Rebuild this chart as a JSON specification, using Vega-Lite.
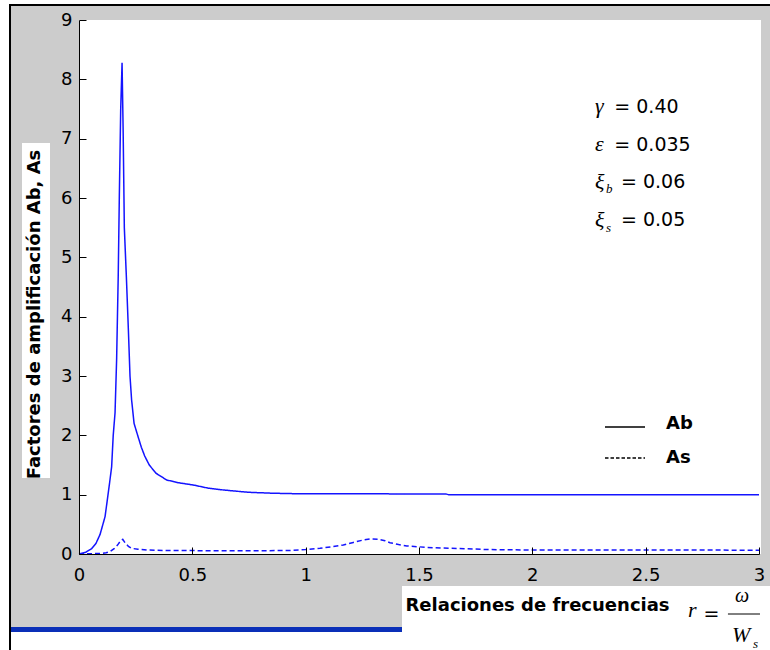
{
  "$schema": "https://vega.github.io/schema/vega-lite/v6.json",
  "width": 680,
  "height": 534,
  "autosize": "none",
  "padding": {"left": 79, "top": 20, "right": 11, "bottom": 96},
  "background": "white",
  "config": {"font": "DejaVu Sans", "view": {"stroke": null}},
  "datasets": {
    "curvas": [
      {"r": 0.0, "A": 0.0, "serie": "Ab"},
      {"r": 0.03, "A": 0.03, "serie": "Ab"},
      {"r": 0.056, "A": 0.09, "serie": "Ab"},
      {"r": 0.075, "A": 0.18, "serie": "Ab"},
      {"r": 0.093, "A": 0.33, "serie": "Ab"},
      {"r": 0.115, "A": 0.63, "serie": "Ab"},
      {"r": 0.134, "A": 1.17, "serie": "Ab"},
      {"r": 0.144, "A": 1.47, "serie": "Ab"},
      {"r": 0.151, "A": 2.0, "serie": "Ab"},
      {"r": 0.159, "A": 2.38, "serie": "Ab"},
      {"r": 0.166, "A": 3.28, "serie": "Ab"},
      {"r": 0.173, "A": 4.67, "serie": "Ab"},
      {"r": 0.178, "A": 6.05, "serie": "Ab"},
      {"r": 0.184, "A": 7.5, "serie": "Ab"},
      {"r": 0.19, "A": 8.28, "serie": "Ab"},
      {"r": 0.195, "A": 7.07, "serie": "Ab"},
      {"r": 0.2, "A": 5.5, "serie": "Ab"},
      {"r": 0.209, "A": 4.67, "serie": "Ab"},
      {"r": 0.218, "A": 3.76, "serie": "Ab"},
      {"r": 0.225, "A": 3.0, "serie": "Ab"},
      {"r": 0.232, "A": 2.6, "serie": "Ab"},
      {"r": 0.243, "A": 2.2, "serie": "Ab"},
      {"r": 0.262, "A": 1.96, "serie": "Ab"},
      {"r": 0.275, "A": 1.8, "serie": "Ab"},
      {"r": 0.29, "A": 1.65, "serie": "Ab"},
      {"r": 0.31, "A": 1.5, "serie": "Ab"},
      {"r": 0.34, "A": 1.36, "serie": "Ab"},
      {"r": 0.387, "A": 1.247, "serie": "Ab"},
      {"r": 0.44, "A": 1.2, "serie": "Ab"},
      {"r": 0.504, "A": 1.163, "serie": "Ab"},
      {"r": 0.57, "A": 1.11, "serie": "Ab"},
      {"r": 0.637, "A": 1.079, "serie": "Ab"},
      {"r": 0.747, "A": 1.04, "serie": "Ab"},
      {"r": 0.85, "A": 1.025, "serie": "Ab"},
      {"r": 0.945, "A": 1.017, "serie": "Ab"},
      {"r": 1.2, "A": 1.015, "serie": "Ab"},
      {"r": 1.4, "A": 1.013, "serie": "Ab"},
      {"r": 1.62, "A": 1.01, "serie": "Ab"},
      {"r": 1.63, "A": 1.0, "serie": "Ab"},
      {"r": 2.0, "A": 1.0, "serie": "Ab"},
      {"r": 2.5, "A": 1.0, "serie": "Ab"},
      {"r": 3.0, "A": 1.0, "serie": "Ab"},
      {"r": 0.0, "A": 0.0, "serie": "As"},
      {"r": 0.05, "A": 0.005, "serie": "As"},
      {"r": 0.1, "A": 0.01, "serie": "As"},
      {"r": 0.12, "A": 0.02, "serie": "As"},
      {"r": 0.137, "A": 0.04, "serie": "As"},
      {"r": 0.155, "A": 0.09, "serie": "As"},
      {"r": 0.17, "A": 0.15, "serie": "As"},
      {"r": 0.183, "A": 0.22, "serie": "As"},
      {"r": 0.193, "A": 0.247, "serie": "As"},
      {"r": 0.205, "A": 0.18, "serie": "As"},
      {"r": 0.218, "A": 0.13, "serie": "As"},
      {"r": 0.232, "A": 0.096, "serie": "As"},
      {"r": 0.26, "A": 0.08, "serie": "As"},
      {"r": 0.299, "A": 0.067, "serie": "As"},
      {"r": 0.4, "A": 0.058, "serie": "As"},
      {"r": 0.6, "A": 0.056, "serie": "As"},
      {"r": 0.8, "A": 0.056, "serie": "As"},
      {"r": 0.93, "A": 0.058, "serie": "As"},
      {"r": 1.0, "A": 0.075, "serie": "As"},
      {"r": 1.063, "A": 0.096, "serie": "As"},
      {"r": 1.12, "A": 0.125, "serie": "As"},
      {"r": 1.166, "A": 0.152, "serie": "As"},
      {"r": 1.21, "A": 0.195, "serie": "As"},
      {"r": 1.25, "A": 0.232, "serie": "As"},
      {"r": 1.284, "A": 0.253, "serie": "As"},
      {"r": 1.32, "A": 0.25, "serie": "As"},
      {"r": 1.35, "A": 0.225, "serie": "As"},
      {"r": 1.372, "A": 0.19, "serie": "As"},
      {"r": 1.41, "A": 0.16, "serie": "As"},
      {"r": 1.446, "A": 0.135, "serie": "As"},
      {"r": 1.534, "A": 0.112, "serie": "As"},
      {"r": 1.6, "A": 0.1, "serie": "As"},
      {"r": 1.7, "A": 0.09, "serie": "As"},
      {"r": 1.8, "A": 0.075, "serie": "As"},
      {"r": 2.0, "A": 0.067, "serie": "As"},
      {"r": 2.5, "A": 0.066, "serie": "As"},
      {"r": 3.0, "A": 0.065, "serie": "As"}
    ]
  },
  "layer": [
    {
      "description": "grey figure panel",
      "data": {"values": [{}]},
      "mark": {"type": "rect", "color": "#cccccc"},
      "encoding": {
        "x": {"datum": -0.3044}, "x2": {"datum": 3.0485},
        "y": {"datum": 9.2528}, "y2": {"datum": -1.2303}
      }
    },
    {
      "description": "white axes area",
      "data": {"values": [{}]},
      "mark": {"type": "rect", "color": "white"},
      "encoding": {
        "x": {"datum": 0}, "x2": {"datum": 3.0088},
        "y": {"datum": 9}, "y2": {"datum": 0}
      }
    },
    {
      "description": "white box behind the y title",
      "data": {"values": [{}]},
      "mark": {"type": "rect", "color": "white"},
      "encoding": {
        "x": {"datum": -0.2515}, "x2": {"datum": -0.1279},
        "y": {"datum": 6.927}, "y2": {"datum": 1.281}
      }
    },
    {
      "description": "white box behind the x title",
      "data": {"values": [{}]},
      "mark": {"type": "rect", "color": "white"},
      "encoding": {
        "x": {"datum": 1.425}, "x2": {"datum": 3.0485},
        "y": {"datum": -0.5393}, "y2": {"datum": -1.618}
      }
    },
    {
      "description": "blue bar at the foot of the panel",
      "data": {"values": [{}]},
      "mark": {"type": "rect", "color": "#0a2fb8"},
      "encoding": {
        "x": {"datum": -0.3044}, "x2": {"datum": 1.425},
        "y": {"datum": -1.2303}, "y2": {"datum": -1.3146}
      }
    },
    {
      "description": "black frame edge, left",
      "data": {"values": [{}]},
      "mark": {"type": "rule", "color": "black", "strokeWidth": 2},
      "encoding": {
        "x": {"datum": -0.3044},
        "y": {"datum": 9.2528}, "y2": {"datum": -1.618}
      }
    },
    {
      "description": "black frame edge, top",
      "data": {"values": [{}]},
      "mark": {"type": "rule", "color": "black", "strokeWidth": 2},
      "encoding": {
        "x": {"datum": -0.3088}, "x2": {"datum": 3.0485},
        "y": {"datum": 9.2528}
      }
    },
    {
      "data": {"name": "curvas"},
      "mark": {"type": "line", "color": "#1414ff", "strokeWidth": 1.5},
      "encoding": {
        "x": {
          "field": "r", "type": "quantitative",
          "scale": {"domain": [0, 3], "nice": false, "zero": false},
          "axis": {
            "values": [0, 0.5, 1, 1.5, 2, 2.5, 3], "format": "~g",
            "grid": false, "zindex": 1,
            "domainColor": "black", "tickColor": "black", "tickSize": -7,
            "labelFontSize": 18, "labelColor": "black", "labelFlush": false,
            "labelOverlap": false, "labelBaseline": "alphabetic", "labelPadding": 33,
            "title": "Relaciones de frecuencias",
            "titleFontSize": 18, "titleFontWeight": "bold", "titleColor": "black",
            "titleX": 326, "titleY": 56, "titleAlign": "left", "titleBaseline": "alphabetic"
          }
        },
        "y": {
          "field": "A", "type": "quantitative",
          "scale": {"domain": [0, 9], "nice": false},
          "axis": {
            "values": [0, 1, 2, 3, 4, 5, 6, 7, 8, 9], "format": "d",
            "grid": false, "zindex": 1,
            "domainColor": "black", "tickColor": "black", "tickSize": -7,
            "labelFontSize": 18, "labelColor": "black", "labelPadding": 14,
            "title": "Factores de amplificación Ab, As",
            "titleFontSize": 18, "titleFontWeight": "bold", "titleColor": "black",
            "titleX": -39.5, "titleY": 294, "titleAngle": 270,
            "titleAlign": "center", "titleBaseline": "alphabetic"
          }
        },
        "detail": {"field": "serie", "type": "nominal"},
        "strokeDash": {
          "field": "serie", "type": "nominal",
          "scale": {"domain": ["Ab", "As"], "range": [[1, 0], [5, 3]]},
          "legend": null
        }
      }
    },
    {
      "description": "legend key: solid line",
      "data": {"values": [{}]},
      "mark": {"type": "rule", "color": "black", "strokeWidth": 1.3},
      "encoding": {
        "x": {"datum": 2.3206}, "x2": {"datum": 2.4971},
        "y": {"datum": 2.1405}
      }
    },
    {
      "description": "legend key: dashed line",
      "data": {"values": [{}]},
      "mark": {"type": "rule", "color": "black", "strokeWidth": 1.3, "strokeDash": [3.5, 2]},
      "encoding": {
        "x": {"datum": 2.3206}, "x2": {"datum": 2.4971},
        "y": {"datum": 1.618}
      }
    },
    {
      "description": "legend labels",
      "data": {"values": [{}]},
      "mark": {"type": "text", "align": "left", "baseline": "alphabetic", "fontSize": 18, "fontWeight": "bold", "color": "black", "lineHeight": 34},
      "encoding": {
        "x": {"datum": 2.59},
        "y": {"datum": 2.1},
        "text": {"value": ["Ab", "As"]}
      }
    },
    {
      "description": "parameter symbols",
      "data": {"values": [{}]},
      "mark": {"type": "text", "align": "left", "baseline": "alphabetic", "font": "Liberation Serif", "fontStyle": "italic", "fontSize": 22, "color": "black", "lineHeight": 37.9},
      "encoding": {
        "x": {"datum": 2.276},
        "y": {"datum": 7.433},
        "text": {"value": ["γ", "ε", "ξ", "ξ"]}
      }
    },
    {
      "description": "parameter subscripts",
      "data": {"values": [{}]},
      "mark": {"type": "text", "align": "left", "baseline": "alphabetic", "font": "Liberation Serif", "fontStyle": "italic", "fontSize": 13, "color": "black", "lineHeight": 38.7},
      "encoding": {
        "x": {"datum": 2.325},
        "y": {"datum": 6.084},
        "text": {"value": ["b", "s"]}
      }
    },
    {
      "description": "parameter values, first two lines",
      "data": {"values": [{}]},
      "mark": {"type": "text", "align": "left", "baseline": "alphabetic", "fontSize": 19, "color": "black", "lineHeight": 37.9},
      "encoding": {
        "x": {"datum": 2.3617},
        "y": {"datum": 7.433},
        "text": {"value": ["= 0.40", "= 0.035"]}
      }
    },
    {
      "description": "parameter values, damping lines",
      "data": {"values": [{}]},
      "mark": {"type": "text", "align": "left", "baseline": "alphabetic", "fontSize": 19, "color": "black", "lineHeight": 38.4},
      "encoding": {
        "x": {"datum": 2.3912},
        "y": {"datum": 6.169},
        "text": {"value": ["= 0.06", "= 0.05"]}
      }
    },
    {
      "description": "x title formula: r =",
      "data": {"values": [{}]},
      "mark": {"type": "text", "align": "left", "baseline": "alphabetic", "font": "Liberation Serif", "fontStyle": "italic", "fontSize": 22, "color": "black"},
      "encoding": {
        "x": {"datum": 2.687},
        "y": {"datum": -1.062},
        "text": {"value": "r"}
      }
    },
    {
      "data": {"values": [{}]},
      "mark": {"type": "text", "align": "left", "baseline": "alphabetic", "fontSize": 19, "color": "black"},
      "encoding": {
        "x": {"datum": 2.755},
        "y": {"datum": -1.112},
        "text": {"value": "="}
      }
    },
    {
      "description": "fraction bar",
      "data": {"values": [{}]},
      "mark": {"type": "rule", "color": "black", "strokeWidth": 1},
      "encoding": {
        "x": {"datum": 2.863}, "x2": {"datum": 3.0044},
        "y": {"datum": -1.0113}
      }
    },
    {
      "description": "numerator omega",
      "data": {"values": [{}]},
      "mark": {"type": "text", "align": "center", "baseline": "alphabetic", "font": "Liberation Serif", "fontStyle": "italic", "fontSize": 20, "color": "black"},
      "encoding": {
        "x": {"datum": 2.925},
        "y": {"datum": -0.809},
        "text": {"value": "ω"}
      }
    },
    {
      "description": "denominator W",
      "data": {"values": [{}]},
      "mark": {"type": "text", "align": "center", "baseline": "alphabetic", "font": "Liberation Serif", "fontStyle": "italic", "fontSize": 22, "color": "black"},
      "encoding": {
        "x": {"datum": 2.921},
        "y": {"datum": -1.483},
        "text": {"value": "W"}
      }
    },
    {
      "description": "denominator subscript s",
      "data": {"values": [{}]},
      "mark": {"type": "text", "align": "left", "baseline": "alphabetic", "font": "Liberation Serif", "fontStyle": "italic", "fontSize": 13, "color": "black"},
      "encoding": {
        "x": {"datum": 2.974},
        "y": {"datum": -1.584},
        "text": {"value": "s"}
      }
    }
  ]
}
